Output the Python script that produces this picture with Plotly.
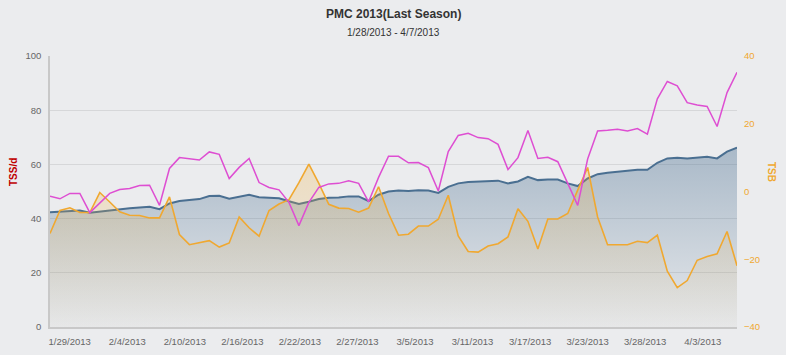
import pandas as pd
import plotly.graph_objects as go

# ---------------- data ----------------
start_date = "2013-01-28"
n_days = 70
dates = pd.date_range(start_date, periods=n_days, freq="D")

ctl = [42.3, 42.5, 42.8, 43.0, 42.2, 42.6, 43.2, 43.6, 43.8, 44.1,
       44.4, 43.5, 45.6, 46.5, 46.8, 47.2, 48.3, 48.4, 47.3, 48.1,
       48.8, 47.9, 47.7, 47.5, 46.4, 45.4, 46.2, 47.2, 47.7, 47.8,
       48.2, 48.2, 46.5, 48.8, 50.0, 50.4, 50.2, 50.5, 50.4, 49.5,
       51.7, 53.0, 53.5, 53.6, 53.8, 54.0, 53.0, 53.7, 55.4, 54.2,
       54.4, 54.4, 53.0, 52.0, 54.8, 56.4, 56.9, 57.3, 57.5, 58.0,
       58.0, 60.6, 62.2, 62.5, 62.2, 62.5, 62.8, 62.2, 64.7, 66.2]

atl = [48.3, 47.3, 49.3, 49.3, 42.2, 45.8, 49.3, 50.7, 51.1, 52.2,
       52.3, 44.9, 58.5, 62.5, 62.1, 61.6, 64.6, 63.7, 54.8, 58.9,
       62.2, 53.3, 51.5, 50.6, 46.0, 37.4, 46.0, 51.5, 52.8, 53.0,
       54.0, 53.0, 46.2, 55.2, 63.0, 63.0, 60.6, 60.7, 58.8, 50.2,
       64.7, 70.7, 71.5, 69.9, 69.5, 67.4, 58.1, 62.5, 72.5, 62.2,
       62.6, 61.0, 53.0, 44.9, 62.0, 72.3, 72.6, 73.0, 72.3, 73.2,
       71.2, 84.2, 90.6, 89.0, 82.8, 81.9, 81.4, 74.0, 86.5, 94.0]

tsb = [-12.4, -5.6, -4.8, -6.2, -6.2, -0.3, -3.1, -6.0, -7.0, -7.1,
       -7.8, -7.8, -1.6, -12.7, -15.7, -15.0, -14.5, -16.4, -15.2, -7.5,
       -10.7, -13.2, -5.6, -3.7, -2.4, 2.6, 8.1, 2.4, -3.8, -4.9,
       -5.0, -6.1, -4.9, 1.4, -6.5, -12.9, -12.6, -10.2, -10.2, -8.2,
       -1.1, -13.1, -17.7, -17.9, -16.1, -15.4, -13.4, -5.1, -8.8, -17.0,
       -8.1, -8.1, -6.5, 0.4, 7.1, -7.5, -15.7, -15.7, -15.7, -14.7,
       -15.1, -12.9, -23.5, -28.4, -26.3, -20.3, -19.2, -18.4, -11.8, -21.9]

x_tick_labels = ["1/29/2013", "2/4/2013", "2/10/2013", "2/16/2013", "2/22/2013",
                 "2/27/2013", "3/5/2013", "3/11/2013", "3/17/2013", "3/23/2013",
                 "3/28/2013", "4/3/2013"]
left_ticks = [0, 20, 40, 60, 80, 100]
right_ticks = [-40, -20, 0, 20, 40]

title_text = "PMC 2013(Last Season)"
subtitle_text = "1/28/2013 - 4/7/2013"
left_title = "TSS/d"
right_title = "TSB"

# ---------------- layout constants ----------------
W, H = 786, 355
ML, MR, MT, MB = 50, 49, 56, 28
PW, PH = W - ML - MR, H - MT - MB
FONT = "Liberation Sans, Arial, Helvetica, sans-serif"
BG = "#EBECEE"
BLUE = "#4A6F91"
ORANGE = "#F0A830"
MAGENTA = "#DE4ED2"
TICK_SIZE = 9.5

tick_first_offset = 1.98   # days after start for the first datetime tick
tick_interval = 5.78       # days between datetime ticks
tickvals = [dates[0] + pd.Timedelta(days=tick_first_offset + tick_interval * k)
            for k in range(len(x_tick_labels))]

left_min, left_max = left_ticks[0], left_ticks[-1]
right_min, right_max = right_ticks[0], right_ticks[-1]


def px_x(px):
    return (px - ML) / PW


def px_y(py):
    return (H - MB - py) / PH


fig = go.Figure()

# CTL area (left axis)
fig.add_trace(go.Scatter(
    x=dates, y=ctl, mode="lines", name="CTL", yaxis="y",
    line=dict(color=BLUE, width=2),
    fill="tozeroy",
    fillgradient=dict(type="vertical", start=left_min, stop=left_max,
                      colorscale=[[0, "rgba(74,111,145,0.03)"],
                                  [1, "rgba(74,111,145,0.6)"]]),
    hoverinfo="skip", showlegend=False,
))

# TSB baseline (bottom of the right axis) + TSB area
fig.add_trace(go.Scatter(
    x=dates, y=[right_min] * n_days, mode="lines", yaxis="y2",
    line=dict(width=0, color="rgba(0,0,0,0)"), hoverinfo="skip", showlegend=False,
))
fig.add_trace(go.Scatter(
    x=dates, y=tsb, mode="lines", name="TSB", yaxis="y2",
    line=dict(color=ORANGE, width=1.6),
    fill="tonexty",
    fillgradient=dict(type="vertical", start=right_min, stop=right_max,
                      colorscale=[[0, "rgba(240,175,60,0.02)"],
                                  [1, "rgba(240,175,60,0.42)"]]),
    hoverinfo="skip", showlegend=False,
))

# ATL line (on an overlaying copy of the left axis so it is drawn on top)
fig.add_trace(go.Scatter(
    x=dates, y=atl, mode="lines", name="ATL", yaxis="y3",
    line=dict(color=MAGENTA, width=1.5),
    hoverinfo="skip", showlegend=False,
))

fig.update_layout(
    width=W, height=H, autosize=False,
    margin=dict(l=ML, r=MR, t=MT, b=MB, pad=0, autoexpand=False),
    paper_bgcolor=BG, plot_bgcolor=BG,
    font=dict(family=FONT, size=TICK_SIZE, color="#666666"),
    showlegend=False,
    xaxis=dict(
        type="date", range=[dates[0], dates[-1]], automargin=False,
        tickmode="array", tickvals=tickvals, ticktext=x_tick_labels,
        showgrid=False, zeroline=False,
        showline=True, linecolor="#C8C8C8", linewidth=1.5,
        ticks="", ticklabelstandoff=5,
        tickfont=dict(size=TICK_SIZE, color="#666666"),
    ),
    yaxis=dict(
        range=[left_min, left_max], tickmode="array", tickvals=left_ticks,
        automargin=False,
        showgrid=True, gridcolor="#D6D7D9", gridwidth=1,
        zeroline=False, showline=True, linecolor="#C8C8C8", linewidth=1.5,
        ticks="", ticklabelstandoff=5,
        tickfont=dict(size=TICK_SIZE, color="#666666"),
    ),
    yaxis2=dict(
        range=[right_min, right_max], tickmode="array", tickvals=right_ticks,
        automargin=False,
        overlaying="y", side="right", showgrid=False, zeroline=False,
        showline=False, ticks="", ticklabelstandoff=6,
        tickfont=dict(size=TICK_SIZE, color=ORANGE),
    ),
    yaxis3=dict(
        range=[left_min, left_max], overlaying="y", visible=False,
    ),
    annotations=[
        dict(text="<b>" + title_text + "</b>", xref="paper", yref="paper",
             x=px_x(393), y=px_y(14), showarrow=False,
             font=dict(size=12, color="#333333", family=FONT),
             xanchor="center", yanchor="middle"),
        dict(text=subtitle_text, xref="paper", yref="paper",
             x=px_x(393), y=px_y(32.5), showarrow=False,
             font=dict(size=10, color="#333333", family=FONT),
             xanchor="center", yanchor="middle"),
        dict(text="<b>" + left_title + "</b>", xref="paper", yref="paper",
             x=px_x(13), y=px_y(172), showarrow=False, textangle=-90,
             font=dict(size=10, color="#C00000", family=FONT),
             xanchor="center", yanchor="middle"),
        dict(text="<b>" + right_title + "</b>", xref="paper", yref="paper",
             x=px_x(772), y=px_y(172), showarrow=False, textangle=90,
             font=dict(size=10, color=ORANGE, family=FONT),
             xanchor="center", yanchor="middle"),
    ],
)

fig.write_html("out.html", config={"displayModeBar": False},
               post_script="document.body.style.margin='0';")
